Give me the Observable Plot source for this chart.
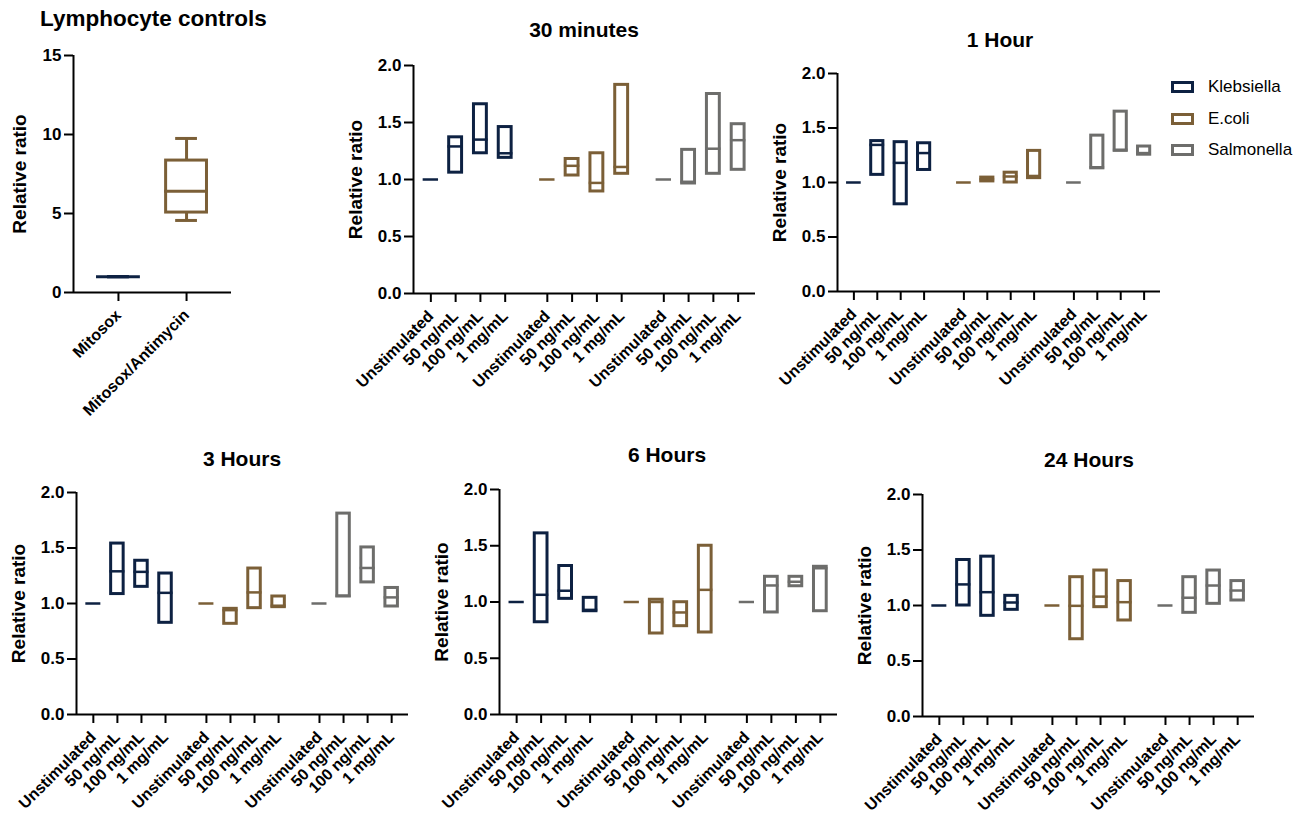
<!DOCTYPE html>
<html>
<head>
<meta charset="utf-8">
<script src="https://cdn.jsdelivr.net/npm/d3@7"></script>
<script src="https://cdn.jsdelivr.net/npm/@observablehq/plot@0.6"></script>
<style>
  body { margin: 0; background: #fff; }
  #fig { position: relative; width: 1296px; height: 816px; overflow: hidden; background: #fff;
         font-family: "Liberation Sans", Arial, Helvetica, sans-serif; color: #000; }
  .panel { position: absolute; }
  .panel svg { overflow: visible; }
  .title { position: absolute; font-weight: bold; white-space: nowrap; }
  .legend-row { position: absolute; display: flex; align-items: center; font-size: 17px; white-space: nowrap; }
  .legend-row span.swatch { display: inline-block; width: 17px; height: 6px; border: 3px solid; margin-right: 14px; }
  g[aria-label="y-axis label"] { font-size: 19px; font-weight: bold; }
</style>
</head>
<body>
<div id="fig"></div>
<script>
// ---- data ----
const groups = ["Klebsiella", "E.coli", "Salmonella"];
const doses = ["Unstimulated", "50 ng/mL", "100 ng/mL", "1 mg/mL"];
const groupColors = ["#0d2142", "#7b5f37", "#6d6d6b"];
const ratioTicks = [0, 0.5, 1, 1.5, 2];

// Lymphocyte controls (box & whiskers)
const controlNames = ["Mitosox", "Mitosox/Antimycin"];
const controlColors = ["#0d2142", "#7b5f37"];
const controlMin = [1, 4.56];
const controlQ1 = [1, 5.06];
const controlMedian = [1, 6.41];
const controlQ3 = [1, 8.35];
const controlMax = [1, 9.75];
const controlTicks = [0, 5, 10, 15];

// Floating bars (min to max, line at centre); order: Klebsiella x4, E.coli x4, Salmonella x4
const low30m  = [1, 1.06, 1.23, 1.19,   1, 1.035, 0.895, 1.05,   1, 0.965, 1.05, 1.085];
const line30m = [1, 1.29, 1.35, 1.23,   1, 1.12, 0.97, 1.11,     1, 0.98, 1.27, 1.345];
const high30m = [1, 1.37, 1.66, 1.46,   1, 1.18, 1.23, 1.83,     1, 1.26, 1.75, 1.485];

const low1h  = [1, 1.07, 0.80, 1.115,   1, 1.01, 1.00, 1.04,     1, 1.13, 1.29, 1.255];
const line1h = [1, 1.345, 1.18, 1.27,   1, 1.03, 1.055, 1.06,    1, 1.14, 1.30, 1.27];
const high1h = [1, 1.38, 1.37, 1.36,    1, 1.045, 1.09, 1.29,    1, 1.43, 1.65, 1.33];

const low3h  = [1, 1.085, 1.15, 0.826,  1, 0.817, 0.958, 0.967,  1, 1.063, 1.19, 0.973];
const line3h = [1, 1.29, 1.285, 1.096,  1, 0.94, 1.10, 0.98,     1, 1.07, 1.32, 1.055];
const high3h = [1, 1.54, 1.385, 1.27,   1, 0.952, 1.315, 1.063,  1, 1.81, 1.505, 1.14];

const low6h  = [1, 0.82, 1.028, 0.918,  1, 0.72, 0.785, 0.729,   1, 0.907, 1.14, 0.918];
const line6h = [1, 1.064, 1.10, 0.93,   1, 1.00, 0.907, 1.108,   1, 1.147, 1.18, 1.30];
const high6h = [1, 1.61, 1.32, 1.037,   1, 1.02, 0.998, 1.50,    1, 1.224, 1.224, 1.313];

const low24h  = [1, 1.0, 0.907, 0.961,  1, 0.696, 0.985, 0.865,  1, 0.934, 1.015, 1.045];
const line24h = [1, 1.19, 1.12, 1.027,  1, 0.997, 1.08, 1.03,    1, 1.07, 1.18, 1.135];
const high24h = [1, 1.41, 1.44, 1.087,  1, 1.255, 1.315, 1.22,   1, 1.255, 1.315, 1.22];

// ---- layout (frame left/top, frame size, title anchor) ----
const timePanels = [
  {title: "30 minutes", low: low30m, line: line30m, high: high30m, left: 413, top: 65,  w: 342, h: 228, tx: 584,  ty: 37},
  {title: "1 Hour",     low: low1h,  line: line1h,  high: high1h,  left: 837, top: 73,  w: 323, h: 218, tx: 1000, ty: 47},
  {title: "3 Hours",    low: low3h,  line: line3h,  high: high3h,  left: 76,  top: 492, w: 332, h: 222, tx: 242,  ty: 466},
  {title: "6 Hours",    low: low6h,  line: line6h,  high: high6h,  left: 499, top: 489, w: 338, h: 225, tx: 667,  ty: 462},
  {title: "24 Hours",   low: low24h, line: line24h, high: high24h, left: 922, top: 494, w: 332, h: 222, tx: 1089, ty: 467}
];

const fig = document.getElementById("fig");
const FONT = '"Liberation Sans", Arial, Helvetica, sans-serif';
const STEP = 4.7;     // distance between bacteria groups, in dose slots
const HALF = 0.26;    // half width of a floating bar, in dose slots
const MB = 140, MT = 12, MR = 6;

function place(node, left, top) {
  const div = document.createElement("div");
  div.className = "panel";
  div.style.left = left + "px";
  div.style.top = top + "px";
  div.appendChild(node);
  fig.appendChild(div);
}

function addTitle(text, x, baseline, size, align) {
  const d = document.createElement("div");
  d.className = "title";
  d.textContent = text;
  d.style.fontSize = size + "px";
  d.style.lineHeight = size + "px";
  d.style.top = (baseline - 0.847 * size) + "px";
  d.style.left = x + "px";
  if (align === "center") d.style.transform = "translateX(-50%)";
  fig.appendChild(d);
}

const yAxisStyle = {fontSize: 17, fontWeight: "bold", strokeWidth: 2, tickSize: 9, tickPadding: 3};
const xAxisStyle = {fontSize: 16, fontWeight: "bold", strokeWidth: 2, tickSize: 9, tickPadding: 11, tickRotate: -45};

function ratioPanel(p) {
  const rows = [];
  groups.forEach((g, gi) => doses.forEach((d, di) => {
    const k = gi * doses.length + di;
    rows.push({group: g, dose: d, pos: gi * STEP + di, low: p.low[k], line: p.line[k], high: p.high[k]});
  }));
  const doseAt = new Map(rows.map(r => [r.pos, r.dose]));
  const x0 = -0.7, x1 = (groups.length - 1) * STEP + (doses.length - 1) + 0.7;
  const ML = Math.min(p.left, 80);
  const svg = Plot.plot({
    width: ML + p.w + MR, height: MT + p.h + MB,
    marginLeft: ML, marginTop: MT, marginRight: MR, marginBottom: MB,
    style: {fontFamily: FONT, color: "#000", background: "transparent"},
    x: {domain: [x0, x1]},
    y: {domain: [0, 2]},
    color: {domain: groups, range: groupColors},
    marks: [
      Plot.rect(rows, {x1: r => r.pos - HALF, x2: r => r.pos + HALF, y1: "low", y2: "high",
                       stroke: "group", fill: "white", strokeWidth: 3}),
      Plot.ruleY(rows, {y: "line", x1: r => r.pos - HALF, x2: r => r.pos + HALF,
                        stroke: "group", strokeWidth: 2.5, strokeLinecap: "square"}),
      Plot.ruleX([x0], {stroke: "#000", strokeWidth: 2}),
      Plot.ruleY([0], {stroke: "#000", strokeWidth: 2}),
      Plot.axisY(ratioTicks, {...yAxisStyle, tickFormat: d3.format(".1f"),
                 label: "Relative ratio", labelAnchor: "center", labelOffset: 65, labelArrow: false}),
      Plot.axisX(rows.map(r => r.pos), {...xAxisStyle, tickFormat: v => doseAt.get(v), label: null})
    ]
  });
  place(svg, p.left - ML, p.top - MT);
  addTitle(p.title, p.tx, p.ty, 21, "center");
}

function controlPanel() {
  const rows = controlNames.map((name, i) => ({
    name, pos: i, min: controlMin[i], q1: controlQ1[i], median: controlMedian[i], q3: controlQ3[i], max: controlMax[i]
  }));
  const ML = 73, left = 73, top = 55, w = 158, h = 237;
  const x0 = -0.66, x1 = controlNames.length - 1 + 0.66;
  const BOX = 0.3, CAP = 0.16;
  const svg = Plot.plot({
    width: ML + w + MR, height: MT + h + MB,
    marginLeft: ML, marginTop: MT, marginRight: MR, marginBottom: MB,
    style: {fontFamily: FONT, color: "#000", background: "transparent"},
    x: {domain: [x0, x1]},
    y: {domain: [0, 15]},
    color: {domain: controlNames, range: controlColors},
    marks: [
      Plot.ruleX(rows, {x: "pos", y1: "min", y2: "q1", stroke: "name", strokeWidth: 3}),
      Plot.ruleX(rows, {x: "pos", y1: "q3", y2: "max", stroke: "name", strokeWidth: 3}),
      Plot.ruleY(rows, {y: "min", x1: r => r.pos - CAP, x2: r => r.pos + CAP, stroke: "name", strokeWidth: 3}),
      Plot.ruleY(rows, {y: "max", x1: r => r.pos - CAP, x2: r => r.pos + CAP, stroke: "name", strokeWidth: 3}),
      Plot.rect(rows, {x1: r => r.pos - BOX, x2: r => r.pos + BOX, y1: "q1", y2: "q3",
                       stroke: "name", fill: "white", strokeWidth: 3}),
      Plot.ruleY(rows, {y: "median", x1: r => r.pos - BOX, x2: r => r.pos + BOX,
                        stroke: "name", strokeWidth: 3, strokeLinecap: "square"}),
      Plot.ruleX([x0], {stroke: "#000", strokeWidth: 2}),
      Plot.ruleY([0], {stroke: "#000", strokeWidth: 2}),
      Plot.axisY(controlTicks, {...yAxisStyle, tickFormat: d3.format("d"),
                 label: "Relative ratio", labelAnchor: "center", labelOffset: 61, labelArrow: false}),
      Plot.axisX(rows.map(r => r.pos), {...xAxisStyle, tickFormat: v => controlNames[v], label: null})
    ]
  });
  place(svg, left - ML, top - MT);
  addTitle("Lymphocyte controls", 40, 27, 22.5, "left");
}

function legend() {
  groups.forEach((g, i) => {
    const row = document.createElement("div");
    row.className = "legend-row";
    row.style.left = "1171px";
    row.style.top = (76 + i * 31.5) + "px";
    row.style.height = "22px";
    const sw = document.createElement("span");
    sw.className = "swatch";
    sw.style.borderColor = groupColors[i];
    const label = document.createElement("span");
    label.textContent = g;
    row.appendChild(sw);
    row.appendChild(label);
    fig.appendChild(row);
  });
}

controlPanel();
timePanels.forEach(ratioPanel);
legend();
</script>
</body>
</html>
